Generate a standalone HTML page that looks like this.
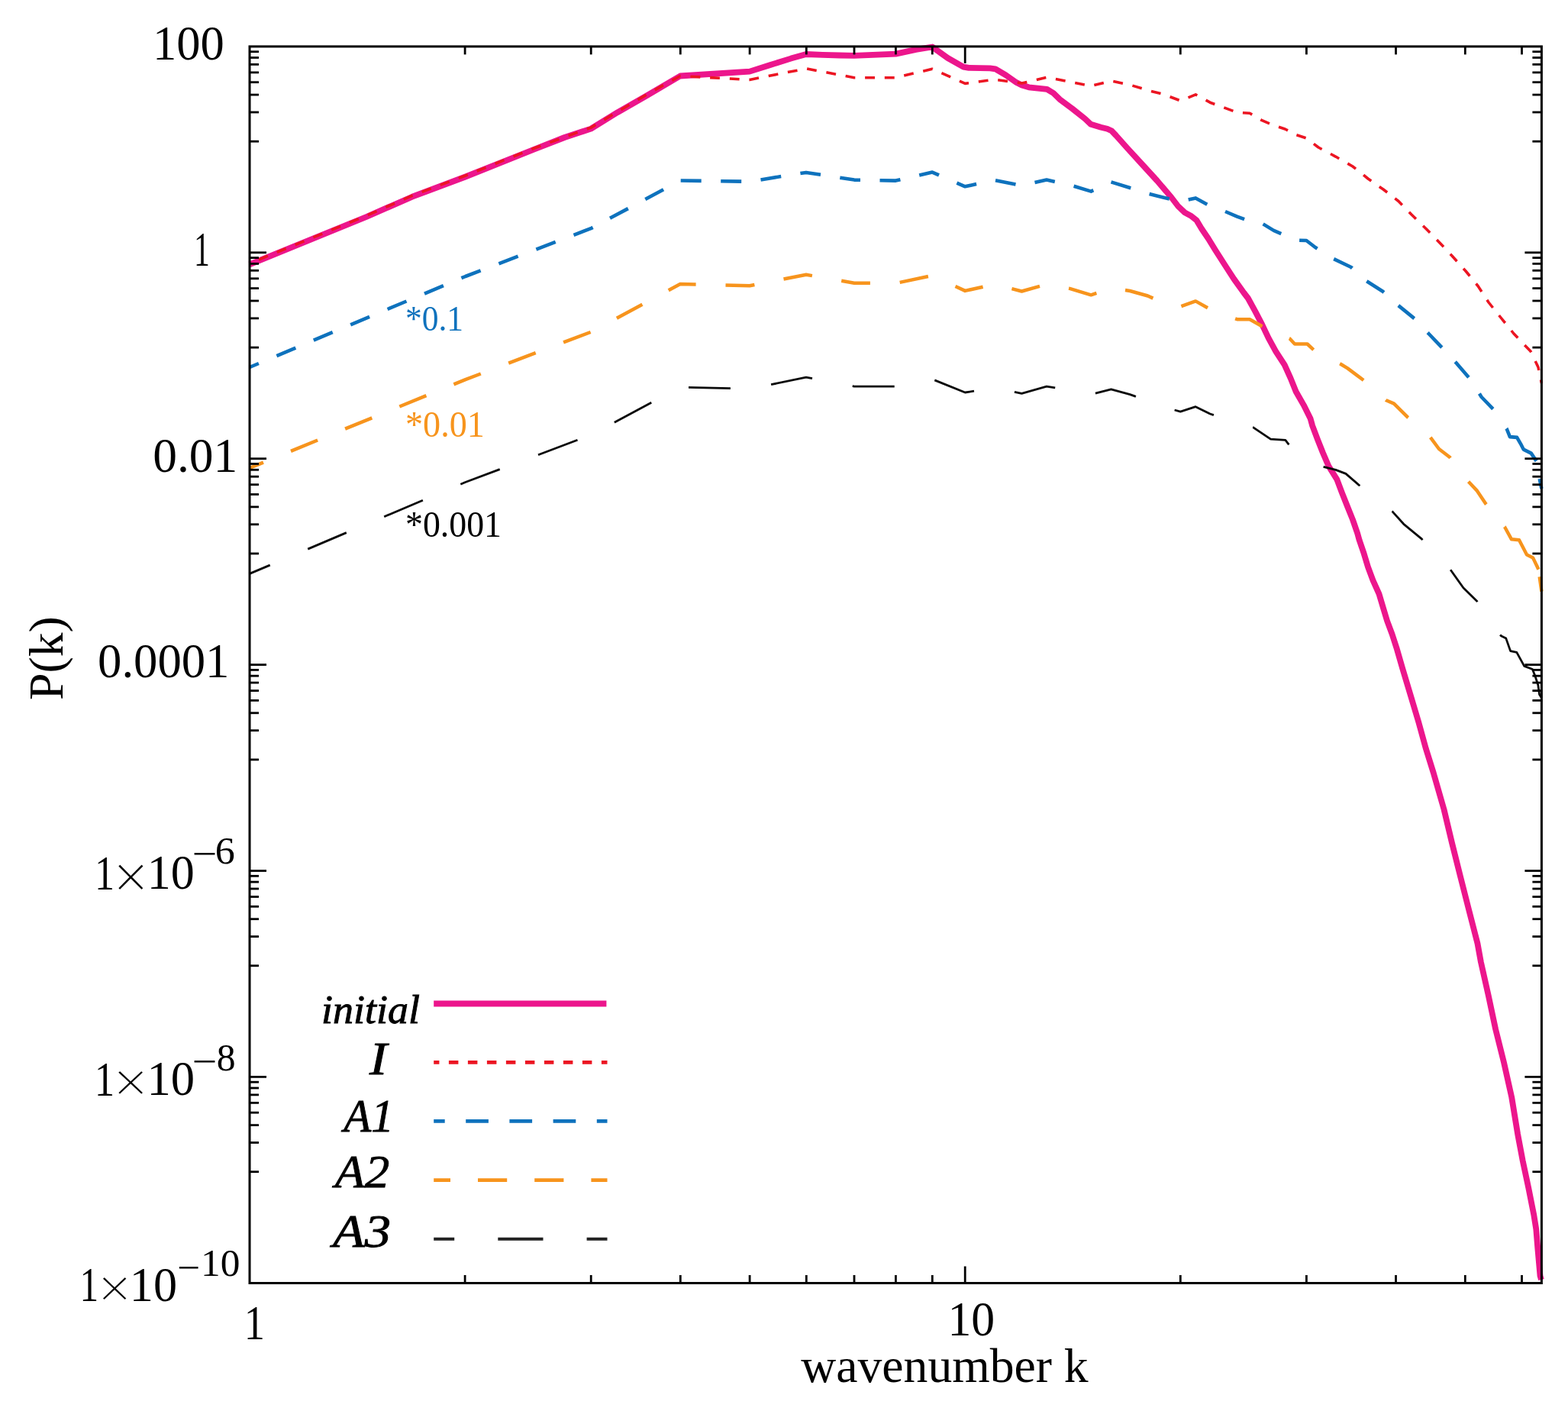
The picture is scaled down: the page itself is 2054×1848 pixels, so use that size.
<!DOCTYPE html><html><head><meta charset="utf-8"><title>P(k) vs wavenumber k</title><style>html,body{margin:0;padding:0;background:#fff;}svg{display:block;}</style></head><body><svg xmlns="http://www.w3.org/2000/svg" width="2054" height="1848" viewBox="0 0 2054 1848"><polyline points="327.0,346.4 480.0,284.0 540.0,257.7 609.7,231.5 700.0,195.5 739.5,180.0 774.1,168.6 808.7,147.3 848.3,124.6 891.0,99.5 982.0,93.6 1008.4,85.3 1036.1,76.6 1056.0,71.0 1077.6,71.8 1100.0,72.5 1119.0,72.8 1173.4,70.6 1200.0,64.9 1221.3,61.5 1241.5,76.0 1262.0,87.6 1269.2,88.9 1296.9,89.4 1304.0,90.3 1317.6,98.4 1331.5,108.1 1338.4,111.5 1347.7,114.3 1371.5,116.8 1380.0,122.0 1388.2,130.1 1404.7,142.4 1421.2,155.5 1429.0,162.8 1442.2,166.8 1450.5,168.7 1456.0,171.2 1462.0,177.5 1476.7,194.0 1497.3,216.5 1515.6,236.5 1534.4,258.5 1543.2,270.0 1552.0,278.4 1560.8,283.2 1567.4,288.5 1574.0,299.5 1582.8,312.5 1592.0,327.5 1604.8,347.5 1616.4,365.4 1629.4,383.5 1634.8,390.5 1644.2,407.6 1653.3,425.1 1661.6,442.7 1671.3,460.3 1682.7,477.9 1690.6,495.4 1697.7,513.0 1707.8,530.6 1716.6,548.2 1719.2,557.6 1725.8,575.1 1732.8,592.7 1740.3,610.3 1751.3,627.9 1757.9,645.4 1764.9,663.0 1772.0,680.6 1778.1,698.2 1780.7,707.6 1786.7,725.1 1792.0,742.7 1798.6,760.3 1806.5,777.9 1811.7,795.4 1817.0,813.0 1823.6,830.6 1829.3,848.2 1837.1,875.2 1847.7,910.3 1858.2,945.5 1867.9,980.7 1877.7,1012.0 1891.5,1060.0 1902.0,1104.0 1913.0,1147.9 1924.2,1191.9 1935.5,1235.8 1939.9,1260.0 1949.8,1304.0 1959.1,1347.9 1970.1,1391.9 1980.2,1437.0 1988.1,1485.2 1994.7,1520.3 2002.2,1555.5 2009.2,1590.7 2012.3,1610.0 2014.5,1637.0 2017.5,1671.0 2019.0,1676.0" fill="none" stroke="#EC168C" stroke-width="7.8" stroke-linejoin="round"/><path d="M327.0 345.0 L327.1 344.9 M339.0 340.1 L350.9 335.2 M362.8 330.4 L374.7 325.5 M386.6 320.6 L398.5 315.8 M410.4 310.9 L422.3 306.1 M434.2 301.2 L446.1 296.3 M458.0 291.5 L469.9 286.6 M481.8 281.7 L493.5 276.6 M505.3 271.4 L517.1 266.3 M528.8 261.1 L540.0 256.2 L540.6 256.0 M552.7 251.4 L564.7 246.9 M576.7 242.4 L588.7 237.9 M600.8 233.4 L609.7 230.0 L612.8 228.8 M624.7 224.0 L636.6 219.3 M648.6 214.5 L660.5 209.7 M672.5 205.0 L684.4 200.2 M696.3 195.5 L700.0 194.0 L708.4 191.0 M720.4 186.6 L732.5 182.2 M744.6 177.8 L756.7 173.4 M768.8 169.0 L774.1 167.1 L780.3 163.4 M791.3 156.9 L802.4 150.3 M813.4 143.8 L824.5 137.2 M835.5 130.7 L846.6 124.1 M857.8 117.9 L869.0 111.6 M880.3 105.4 L891.0 99.5 L891.6 99.5 M904.4 100.2 L917.3 100.9 M930.1 101.6 L942.9 102.3 M955.8 103.0 L968.6 103.7 M981.4 104.4 L982.0 104.4 L994.0 102.0 M1006.7 99.6 L1019.3 97.1 M1031.9 94.6 L1044.5 92.2 M1057.1 90.1 L1069.7 92.5 M1082.4 94.8 L1095.0 97.2 M1107.6 99.6 L1119.0 101.7 L1120.3 101.7 M1133.1 101.7 L1146.0 101.7 M1158.8 101.7 L1171.7 101.7 M1184.2 99.1 L1196.7 96.1 M1209.2 93.2 L1221.3 90.3 L1221.7 90.5 M1233.4 95.7 L1245.2 100.9 M1256.9 106.2 L1264.2 109.4 L1269.0 108.8 M1281.8 107.0 L1294.5 105.3 M1307.2 104.8 L1320.0 106.5 M1332.7 108.2 L1338.4 109.0 L1345.3 107.4 M1357.8 104.4 L1370.3 101.5 M1382.9 103.6 L1395.6 106.0 M1408.2 108.5 L1420.8 110.9 M1433.3 111.6 L1445.8 108.4 M1458.3 106.6 L1470.9 109.2 M1483.4 112.1 L1495.7 115.8 M1508.0 119.4 L1520.5 122.6 M1532.6 126.7 L1544.6 131.3 M1556.5 127.8 L1566.2 123.9 L1568.3 125.0 M1579.6 131.2 L1585.1 134.2 L1591.3 136.5 M1603.3 140.9 L1615.4 145.4 M1627.9 147.7 L1637.1 148.3 L1640.2 150.1 M1651.3 156.6 L1653.1 157.7 L1663.0 161.9 M1675.0 166.3 L1683.3 169.0 L1687.0 170.9 M1698.4 176.8 L1710.6 180.8 M1720.9 188.4 L1727.0 193.0 L1731.6 195.5 M1742.9 201.5 L1750.0 205.3 L1754.2 207.7 M1765.3 214.1 L1772.0 218.0 L1776.0 221.2 M1786.1 229.2 L1792.0 234.0 L1796.3 237.0 M1806.8 244.4 L1812.0 248.0 L1817.2 252.0 M1827.3 259.9 L1832.0 263.5 L1836.8 268.5 M1845.8 277.7 L1849.0 281.0 L1854.9 286.7 M1864.1 295.7 L1868.0 299.5 L1873.2 304.8 M1882.1 314.0 L1885.0 317.0 L1891.0 323.3 M1899.8 332.7 L1902.0 335.0 L1908.5 342.2 M1917.0 351.7 L1920.0 355.0 L1925.4 361.5 M1933.5 371.5 L1936.0 374.5 L1940.9 382.0 M1947.9 392.7 L1950.0 396.0 L1955.6 403.0 M1963.6 413.0 L1966.0 416.0 L1971.7 423.0 M1979.8 433.0 L1983.0 437.0 L1988.3 442.6 M1997.2 451.9 L2005.0 460.0 L2005.7 461.4 M2011.2 473.0 L2015.0 481.0 L2015.8 485.0 M2018.5 497.5 L2019.4 502.0" fill="none" stroke="#EC1522" stroke-width="3.6" stroke-linejoin="round"/><path d="M327.0 481.0 L338.9 476.0 M362.4 466.1 L387.3 455.6 M410.8 445.7 L435.7 435.2 M459.2 425.3 L484.1 414.9 M507.6 405.0 L532.5 394.5 M556.0 384.6 L580.9 374.1 M604.4 364.2 L609.7 362.0 L629.6 354.4 M653.4 345.3 L678.6 335.7 M702.4 326.6 L727.7 316.9 M751.5 307.8 L774.1 299.2 L776.6 297.9 M799.0 285.8 L822.8 273.1 M845.3 261.0 L869.1 248.2 M891.7 236.5 L918.7 236.9 M944.2 237.2 L971.2 237.6 M996.5 235.4 L1023.2 231.1 M1048.4 227.1 L1056.0 225.9 L1075.0 228.8 M1100.3 232.7 L1119.0 235.6 L1127.0 235.7 M1152.5 236.2 L1173.4 236.6 L1179.4 235.2 M1204.2 229.5 L1221.3 225.6 L1230.0 229.4 M1253.4 239.6 L1264.2 244.3 L1279.1 241.1 M1304.0 236.2 L1330.5 241.4 M1355.5 239.1 L1371.0 235.6 L1381.8 238.0 M1406.6 243.8 L1429.2 250.6 L1432.3 249.2 M1455.5 238.4 L1455.5 238.4 L1480.2 246.0 L1481.3 246.3 M1505.6 254.0 L1525.5 259.1 L1531.8 260.5 M1556.7 261.5 L1566.2 259.4 L1581.3 267.7 M1605.0 277.0 L1620.5 283.6 L1630.1 287.1 M1654.6 293.4 L1668.5 301.9 L1678.3 306.2 M1702.1 314.7 L1711.3 315.0 L1723.0 324.0 L1725.6 325.6 M1747.2 339.1 L1770.0 350.0 L1771.3 351.2 M1790.3 368.2 L1811.5 381.7 L1812.9 382.9 M1831.8 400.1 L1852.7 417.1 M1870.2 435.7 L1871.0 436.5 L1888.8 455.2 M1906.2 473.9 L1908.6 476.4 L1923.9 494.3 M1937.9 515.6 L1940.7 520.0 L1955.8 535.7 M1973.4 561.1 L1973.6 561.4 L1977.9 572.1 L1987.1 572.9 L1992.9 582.9 L1995.7 588.6 L2005.7 593.6 L2012.6 603.9 M2016.8 627.1 L2017.0 628.6 L2019.4 640.0" fill="none" stroke="#0E72BD" stroke-width="4.6" stroke-linejoin="round"/><path d="M327.0 613.0 L345.0 605.6 M381.0 590.9 L416.1 576.5 M452.1 561.7 L487.3 547.3 M523.3 532.5 L558.4 518.1 M594.4 503.4 L609.7 497.1 L629.8 489.5 M666.2 475.7 L701.7 462.2 M738.1 448.4 L773.6 435.0 M807.9 416.7 L841.4 398.7 M875.7 380.3 L891.0 372.1 L911.6 372.6 M950.5 373.5 L982.0 374.3 L988.4 373.0 M1026.5 365.5 L1056.0 359.7 L1063.9 361.1 M1102.2 367.8 L1119.0 370.7 L1139.9 370.8 M1178.7 369.9 L1215.9 362.0 M1251.5 375.0 L1264.2 380.9 L1287.6 375.7 M1325.4 378.1 L1338.4 381.5 L1362.0 374.8 M1400.0 377.7 L1401.2 377.9 L1429.2 386.3 L1436.4 383.9 M1474.0 380.1 L1480.2 381.0 L1503.5 387.5 L1510.4 390.6 M1547.4 401.1 L1566.2 394.4 L1582.0 403.2 M1618.1 417.4 L1620.5 418.2 L1637.1 418.2 L1653.1 427.3 L1653.5 427.5 M1688.9 443.1 L1689.5 443.4 L1696.0 450.5 L1712.5 450.5 L1720.7 458.1 M1755.1 476.3 L1756.5 477.0 L1765.3 482.4 L1786.2 498.0 M1815.3 523.8 L1815.8 524.2 L1826.0 528.6 L1844.2 546.7 L1844.7 547.1 M1873.8 572.8 L1885.0 588.0 L1899.0 598.7 L1899.9 599.9 M1923.6 630.7 L1935.0 642.9 L1946.4 660.0 L1946.9 660.6 M1970.9 689.9 L1971.0 690.0 L1980.0 706.3 L1990.0 707.3 L2000.0 726.5 L2008.0 730.4 L2015.4 745.8 M2016.7 755.3 L2017.0 757.3 L2019.4 774.6" fill="none" stroke="#F7941D" stroke-width="4.5" stroke-linejoin="round"/><path d="M327.0 751.4 L353.7 740.1 M403.2 719.1 L453.8 697.6 M503.2 676.7 L553.9 655.2 M603.3 634.2 L609.7 631.5 L654.7 614.6 M705.0 595.7 L756.5 576.3 M804.8 553.2 L853.3 527.2 M902.0 507.3 L956.9 508.7 M1010.1 503.6 L1056.0 494.2 L1064.0 495.7 M1116.7 505.7 L1119.0 506.1 L1171.7 506.1 M1224.3 497.9 L1264.2 514.0 L1276.0 512.2 M1328.9 513.4 L1338.4 515.4 L1371.0 506.1 L1382.2 507.9 M1434.9 515.1 L1455.5 509.8 L1480.2 516.6 L1487.9 519.4 M1538.6 537.0 L1546.3 539.1 L1566.2 532.7 L1585.1 542.0 L1589.9 543.6 M1641.1 559.6 L1641.4 559.7 L1664.5 575.1 L1683.8 576.4 L1688.4 582.4 L1688.4 582.4 M1733.6 611.4 L1749.7 615.4 L1762.9 620.4 L1781.0 636.0 L1781.3 636.3 M1823.5 669.6 L1823.9 669.9 L1838.7 686.3 L1861.8 705.3 L1863.5 707.1 M1900.1 746.3 L1917.0 770.0 L1934.6 787.3 L1935.3 788.3 M1965.2 831.4 L1966.2 832.8 L1972.8 836.1 L1978.6 852.6 L1986.8 854.3 L1996.7 872.4 L2007.4 876.5 L2010.7 884.7 L2014.8 897.1 L2016.5 909.4 L2019.4 914.0" fill="none" stroke="#0A0A0A" stroke-width="2.8" stroke-linejoin="round"/><g stroke="#000" stroke-width="2.8" fill="none"><line x1="609.1" y1="1680.5" x2="609.1" y2="1670.0"/><line x1="609.1" y1="60.9" x2="609.1" y2="71.4"/><line x1="774.2" y1="1680.5" x2="774.2" y2="1670.0"/><line x1="774.2" y1="60.9" x2="774.2" y2="71.4"/><line x1="891.3" y1="1680.5" x2="891.3" y2="1670.0"/><line x1="891.3" y1="60.9" x2="891.3" y2="71.4"/><line x1="982.1" y1="1680.5" x2="982.1" y2="1670.0"/><line x1="982.1" y1="60.9" x2="982.1" y2="71.4"/><line x1="1056.3" y1="1680.5" x2="1056.3" y2="1670.0"/><line x1="1056.3" y1="60.9" x2="1056.3" y2="71.4"/><line x1="1119.0" y1="1680.5" x2="1119.0" y2="1670.0"/><line x1="1119.0" y1="60.9" x2="1119.0" y2="71.4"/><line x1="1173.4" y1="1680.5" x2="1173.4" y2="1670.0"/><line x1="1173.4" y1="60.9" x2="1173.4" y2="71.4"/><line x1="1221.3" y1="1680.5" x2="1221.3" y2="1670.0"/><line x1="1221.3" y1="60.9" x2="1221.3" y2="71.4"/><line x1="1264.2" y1="1680.5" x2="1264.2" y2="1658.5"/><line x1="1264.2" y1="60.9" x2="1264.2" y2="82.9"/><line x1="1546.3" y1="1680.5" x2="1546.3" y2="1670.0"/><line x1="1546.3" y1="60.9" x2="1546.3" y2="71.4"/><line x1="1711.4" y1="1680.5" x2="1711.4" y2="1670.0"/><line x1="1711.4" y1="60.9" x2="1711.4" y2="71.4"/><line x1="1828.5" y1="1680.5" x2="1828.5" y2="1670.0"/><line x1="1828.5" y1="60.9" x2="1828.5" y2="71.4"/><line x1="1919.3" y1="1680.5" x2="1919.3" y2="1670.0"/><line x1="1919.3" y1="60.9" x2="1919.3" y2="71.4"/><line x1="1993.5" y1="1680.5" x2="1993.5" y2="1670.0"/><line x1="1993.5" y1="60.9" x2="1993.5" y2="71.4"/><line x1="327.0" y1="1534.7" x2="339.0" y2="1534.7"/><line x1="2019.4" y1="1534.7" x2="2007.4" y2="1534.7"/><line x1="327.0" y1="1496.5" x2="339.0" y2="1496.5"/><line x1="2019.4" y1="1496.5" x2="2007.4" y2="1496.5"/><line x1="327.0" y1="1473.6" x2="339.0" y2="1473.6"/><line x1="2019.4" y1="1473.6" x2="2007.4" y2="1473.6"/><line x1="327.0" y1="1457.2" x2="339.0" y2="1457.2"/><line x1="2019.4" y1="1457.2" x2="2007.4" y2="1457.2"/><line x1="327.0" y1="1444.4" x2="339.0" y2="1444.4"/><line x1="2019.4" y1="1444.4" x2="2007.4" y2="1444.4"/><line x1="327.0" y1="1433.9" x2="339.0" y2="1433.9"/><line x1="2019.4" y1="1433.9" x2="2007.4" y2="1433.9"/><line x1="327.0" y1="1425.0" x2="339.0" y2="1425.0"/><line x1="2019.4" y1="1425.0" x2="2007.4" y2="1425.0"/><line x1="327.0" y1="1417.2" x2="339.0" y2="1417.2"/><line x1="2019.4" y1="1417.2" x2="2007.4" y2="1417.2"/><line x1="327.0" y1="1410.4" x2="349.0" y2="1410.4"/><line x1="2019.4" y1="1410.4" x2="1997.4" y2="1410.4"/><line x1="327.0" y1="1264.8" x2="339.0" y2="1264.8"/><line x1="2019.4" y1="1264.8" x2="2007.4" y2="1264.8"/><line x1="327.0" y1="1226.6" x2="339.0" y2="1226.6"/><line x1="2019.4" y1="1226.6" x2="2007.4" y2="1226.6"/><line x1="327.0" y1="1203.7" x2="339.0" y2="1203.7"/><line x1="2019.4" y1="1203.7" x2="2007.4" y2="1203.7"/><line x1="327.0" y1="1187.3" x2="339.0" y2="1187.3"/><line x1="2019.4" y1="1187.3" x2="2007.4" y2="1187.3"/><line x1="327.0" y1="1174.5" x2="339.0" y2="1174.5"/><line x1="2019.4" y1="1174.5" x2="2007.4" y2="1174.5"/><line x1="327.0" y1="1164.0" x2="339.0" y2="1164.0"/><line x1="2019.4" y1="1164.0" x2="2007.4" y2="1164.0"/><line x1="327.0" y1="1155.1" x2="339.0" y2="1155.1"/><line x1="2019.4" y1="1155.1" x2="2007.4" y2="1155.1"/><line x1="327.0" y1="1147.3" x2="339.0" y2="1147.3"/><line x1="2019.4" y1="1147.3" x2="2007.4" y2="1147.3"/><line x1="327.0" y1="1140.5" x2="349.0" y2="1140.5"/><line x1="2019.4" y1="1140.5" x2="1997.4" y2="1140.5"/><line x1="327.0" y1="994.9" x2="339.0" y2="994.9"/><line x1="2019.4" y1="994.9" x2="2007.4" y2="994.9"/><line x1="327.0" y1="956.7" x2="339.0" y2="956.7"/><line x1="2019.4" y1="956.7" x2="2007.4" y2="956.7"/><line x1="327.0" y1="933.8" x2="339.0" y2="933.8"/><line x1="2019.4" y1="933.8" x2="2007.4" y2="933.8"/><line x1="327.0" y1="917.4" x2="339.0" y2="917.4"/><line x1="2019.4" y1="917.4" x2="2007.4" y2="917.4"/><line x1="327.0" y1="904.6" x2="339.0" y2="904.6"/><line x1="2019.4" y1="904.6" x2="2007.4" y2="904.6"/><line x1="327.0" y1="894.1" x2="339.0" y2="894.1"/><line x1="2019.4" y1="894.1" x2="2007.4" y2="894.1"/><line x1="327.0" y1="885.2" x2="339.0" y2="885.2"/><line x1="2019.4" y1="885.2" x2="2007.4" y2="885.2"/><line x1="327.0" y1="877.4" x2="339.0" y2="877.4"/><line x1="2019.4" y1="877.4" x2="2007.4" y2="877.4"/><line x1="327.0" y1="870.6" x2="349.0" y2="870.6"/><line x1="2019.4" y1="870.6" x2="1997.4" y2="870.6"/><line x1="327.0" y1="725.0" x2="339.0" y2="725.0"/><line x1="2019.4" y1="725.0" x2="2007.4" y2="725.0"/><line x1="327.0" y1="686.8" x2="339.0" y2="686.8"/><line x1="2019.4" y1="686.8" x2="2007.4" y2="686.8"/><line x1="327.0" y1="663.9" x2="339.0" y2="663.9"/><line x1="2019.4" y1="663.9" x2="2007.4" y2="663.9"/><line x1="327.0" y1="647.5" x2="339.0" y2="647.5"/><line x1="2019.4" y1="647.5" x2="2007.4" y2="647.5"/><line x1="327.0" y1="634.7" x2="339.0" y2="634.7"/><line x1="2019.4" y1="634.7" x2="2007.4" y2="634.7"/><line x1="327.0" y1="624.2" x2="339.0" y2="624.2"/><line x1="2019.4" y1="624.2" x2="2007.4" y2="624.2"/><line x1="327.0" y1="615.3" x2="339.0" y2="615.3"/><line x1="2019.4" y1="615.3" x2="2007.4" y2="615.3"/><line x1="327.0" y1="607.5" x2="339.0" y2="607.5"/><line x1="2019.4" y1="607.5" x2="2007.4" y2="607.5"/><line x1="327.0" y1="600.7" x2="349.0" y2="600.7"/><line x1="2019.4" y1="600.7" x2="1997.4" y2="600.7"/><line x1="327.0" y1="455.1" x2="339.0" y2="455.1"/><line x1="2019.4" y1="455.1" x2="2007.4" y2="455.1"/><line x1="327.0" y1="416.9" x2="339.0" y2="416.9"/><line x1="2019.4" y1="416.9" x2="2007.4" y2="416.9"/><line x1="327.0" y1="394.0" x2="339.0" y2="394.0"/><line x1="2019.4" y1="394.0" x2="2007.4" y2="394.0"/><line x1="327.0" y1="377.6" x2="339.0" y2="377.6"/><line x1="2019.4" y1="377.6" x2="2007.4" y2="377.6"/><line x1="327.0" y1="364.8" x2="339.0" y2="364.8"/><line x1="2019.4" y1="364.8" x2="2007.4" y2="364.8"/><line x1="327.0" y1="354.3" x2="339.0" y2="354.3"/><line x1="2019.4" y1="354.3" x2="2007.4" y2="354.3"/><line x1="327.0" y1="345.4" x2="339.0" y2="345.4"/><line x1="2019.4" y1="345.4" x2="2007.4" y2="345.4"/><line x1="327.0" y1="337.6" x2="339.0" y2="337.6"/><line x1="2019.4" y1="337.6" x2="2007.4" y2="337.6"/><line x1="327.0" y1="330.8" x2="349.0" y2="330.8"/><line x1="2019.4" y1="330.8" x2="1997.4" y2="330.8"/><line x1="327.0" y1="185.2" x2="339.0" y2="185.2"/><line x1="2019.4" y1="185.2" x2="2007.4" y2="185.2"/><line x1="327.0" y1="147.0" x2="339.0" y2="147.0"/><line x1="2019.4" y1="147.0" x2="2007.4" y2="147.0"/><line x1="327.0" y1="124.1" x2="339.0" y2="124.1"/><line x1="2019.4" y1="124.1" x2="2007.4" y2="124.1"/><line x1="327.0" y1="107.7" x2="339.0" y2="107.7"/><line x1="2019.4" y1="107.7" x2="2007.4" y2="107.7"/><line x1="327.0" y1="94.9" x2="339.0" y2="94.9"/><line x1="2019.4" y1="94.9" x2="2007.4" y2="94.9"/><line x1="327.0" y1="84.4" x2="339.0" y2="84.4"/><line x1="2019.4" y1="84.4" x2="2007.4" y2="84.4"/><line x1="327.0" y1="75.5" x2="339.0" y2="75.5"/><line x1="2019.4" y1="75.5" x2="2007.4" y2="75.5"/><line x1="327.0" y1="67.7" x2="339.0" y2="67.7"/><line x1="2019.4" y1="67.7" x2="2007.4" y2="67.7"/></g><rect x="327.0" y="60.9" width="1692.4" height="1619.6" fill="none" stroke="#000" stroke-width="3"/><line x1="568.2" y1="1314.6" x2="794.4" y2="1314.6" stroke="#EC168C" stroke-width="8"/><line x1="568.2" y1="1391.4" x2="795.5" y2="1391.4" stroke="#EC1522" stroke-width="4.6" stroke-dasharray="12.5 12.5" stroke-dashoffset="5.3"/><line x1="568.2" y1="1468.4" x2="795.5" y2="1468.4" stroke="#0E72BD" stroke-width="4.6" stroke-dasharray="29.7 27.5" stroke-dashoffset="15.2"/><line x1="568.2" y1="1545.6" x2="795.5" y2="1545.6" stroke="#F7941D" stroke-width="4.6" stroke-dasharray="38.2 36" stroke-dashoffset="16.4"/><line x1="568.2" y1="1622.8" x2="795.5" y2="1622.8" stroke="#222" stroke-width="4" stroke-dasharray="59.2 57.1" stroke-dashoffset="32.2"/><text x="200.00" y="77.75" font-family='"Liberation Serif", "DejaVu Serif", serif' font-size="64.00" fill="#000" textLength="93.80" lengthAdjust="spacingAndGlyphs">100</text><text x="254.10" y="348.15" font-family='"Liberation Serif", "DejaVu Serif", serif' font-size="64.00" fill="#000" textLength="20.80" lengthAdjust="spacingAndGlyphs">1</text><text x="200.30" y="617.75" font-family='"Liberation Serif", "DejaVu Serif", serif' font-size="64.00" fill="#000" textLength="111.00" lengthAdjust="spacingAndGlyphs">0.01</text><text x="128.05" y="887.40" font-family='"Liberation Serif", "DejaVu Serif", serif' font-size="64.00" fill="#000" textLength="172.40" lengthAdjust="spacingAndGlyphs">0.0001</text><text x="124.00" y="1164.55" font-family='"Liberation Serif", "DejaVu Serif", serif' font-size="64.00" fill="#000" textLength="26.00" lengthAdjust="spacingAndGlyphs">1</text><text x="147.50" y="1176.50" font-family='"Liberation Serif", "DejaVu Serif", serif' font-size="84.79" fill="#000" stroke="#fff" stroke-width="1.6" textLength="47.60" lengthAdjust="spacingAndGlyphs">×</text><text x="192.80" y="1164.05" font-family='"Liberation Serif", "DejaVu Serif", serif' font-size="64.00" fill="#000" textLength="62.00" lengthAdjust="spacingAndGlyphs">10</text><text x="251.60" y="1135.30" font-family='"Liberation Serif", "DejaVu Serif", serif' font-size="50.00" fill="#000" textLength="32.60" lengthAdjust="spacingAndGlyphs">−</text><text x="281.75" y="1130.80" font-family='"Liberation Serif", "DejaVu Serif", serif' font-size="51.00" fill="#000" textLength="26.00" lengthAdjust="spacingAndGlyphs">6</text><text x="123.80" y="1434.55" font-family='"Liberation Serif", "DejaVu Serif", serif' font-size="64.00" fill="#000" textLength="26.40" lengthAdjust="spacingAndGlyphs">1</text><text x="147.50" y="1444.20" font-family='"Liberation Serif", "DejaVu Serif", serif' font-size="78.21" fill="#000" stroke="#fff" stroke-width="1.6" textLength="47.20" lengthAdjust="spacingAndGlyphs">×</text><text x="192.50" y="1433.55" font-family='"Liberation Serif", "DejaVu Serif", serif' font-size="64.00" fill="#000" textLength="62.60" lengthAdjust="spacingAndGlyphs">10</text><text x="251.60" y="1407.20" font-family='"Liberation Serif", "DejaVu Serif", serif' font-size="50.00" fill="#000" textLength="32.60" lengthAdjust="spacingAndGlyphs">−</text><text x="283.85" y="1402.20" font-family='"Liberation Serif", "DejaVu Serif", serif' font-size="51.00" fill="#000" textLength="24.80" lengthAdjust="spacingAndGlyphs">8</text><text x="104.40" y="1703.55" font-family='"Liberation Serif", "DejaVu Serif", serif' font-size="64.00" fill="#000" textLength="24.60" lengthAdjust="spacingAndGlyphs">1</text><text x="127.40" y="1713.40" font-family='"Liberation Serif", "DejaVu Serif", serif' font-size="76.97" fill="#000" stroke="#fff" stroke-width="1.6" textLength="45.20" lengthAdjust="spacingAndGlyphs">×</text><text x="169.80" y="1703.55" font-family='"Liberation Serif", "DejaVu Serif", serif' font-size="64.00" fill="#000" textLength="62.20" lengthAdjust="spacingAndGlyphs">10</text><text x="231.90" y="1676.70" font-family='"Liberation Serif", "DejaVu Serif", serif' font-size="50.00" fill="#000" textLength="30.00" lengthAdjust="spacingAndGlyphs">−</text><text x="263.05" y="1671.05" font-family='"Liberation Serif", "DejaVu Serif", serif' font-size="51.00" fill="#000" textLength="51.40" lengthAdjust="spacingAndGlyphs">10</text><text x="319.65" y="1753.80" font-family='"Liberation Serif", "DejaVu Serif", serif' font-size="64.00" fill="#000" textLength="27.20" lengthAdjust="spacingAndGlyphs">1</text><text x="1241.45" y="1749.00" font-family='"Liberation Serif", "DejaVu Serif", serif' font-size="64.00" fill="#000" textLength="61.70" lengthAdjust="spacingAndGlyphs">10</text><text x="1049.30" y="1810.20" font-family='"Liberation Serif", "DejaVu Serif", serif' font-size="62.41" fill="#000" textLength="376.40" lengthAdjust="spacingAndGlyphs">wavenumber k</text><text x="81.60" y="917.00" font-family='"Liberation Serif", "DejaVu Serif", serif' font-size="63.50" fill="#000" textLength="109.80" lengthAdjust="spacingAndGlyphs" transform="rotate(-90 81.60 917.00)">P(k)</text><text x="531.00" y="432.90" font-family='"Liberation Serif", "DejaVu Serif", serif' font-size="47.33" fill="#0E72BD" textLength="76.00" lengthAdjust="spacingAndGlyphs">*0.1</text><text x="531.00" y="572.30" font-family='"Liberation Serif", "DejaVu Serif", serif' font-size="47.94" fill="#F7941D" textLength="103.80" lengthAdjust="spacingAndGlyphs">*0.01</text><text x="531.00" y="703.10" font-family='"Liberation Serif", "DejaVu Serif", serif' font-size="47.80" fill="#000" textLength="126.00" lengthAdjust="spacingAndGlyphs">*0.001</text><text x="421.10" y="1340.40" font-family='"Liberation Serif", "DejaVu Serif", serif' font-size="52.01" fill="#000" font-style="italic" stroke="#000" stroke-width="0.9" textLength="128.80" lengthAdjust="spacingAndGlyphs">initial</text><text x="484.00" y="1407.00" font-family='"Liberation Serif", "DejaVu Serif", serif' font-size="60.82" fill="#000" font-style="italic" stroke="#000" stroke-width="0.9" textLength="23.00" lengthAdjust="spacingAndGlyphs">I</text><text x="450.30" y="1481.70" font-family='"Liberation Serif", "DejaVu Serif", serif' font-size="60.82" fill="#000" font-style="italic" stroke="#000" stroke-width="0.9" textLength="65.40" lengthAdjust="spacingAndGlyphs">A1</text><text x="438.70" y="1555.00" font-family='"Liberation Serif", "DejaVu Serif", serif' font-size="62.00" fill="#000" font-style="italic" stroke="#000" stroke-width="0.9" textLength="71.60" lengthAdjust="spacingAndGlyphs">A2</text><text x="435.90" y="1633.20" font-family='"Liberation Serif", "DejaVu Serif", serif' font-size="60.43" fill="#000" font-style="italic" stroke="#000" stroke-width="0.9" textLength="76.20" lengthAdjust="spacingAndGlyphs">A3</text></svg></body></html>
